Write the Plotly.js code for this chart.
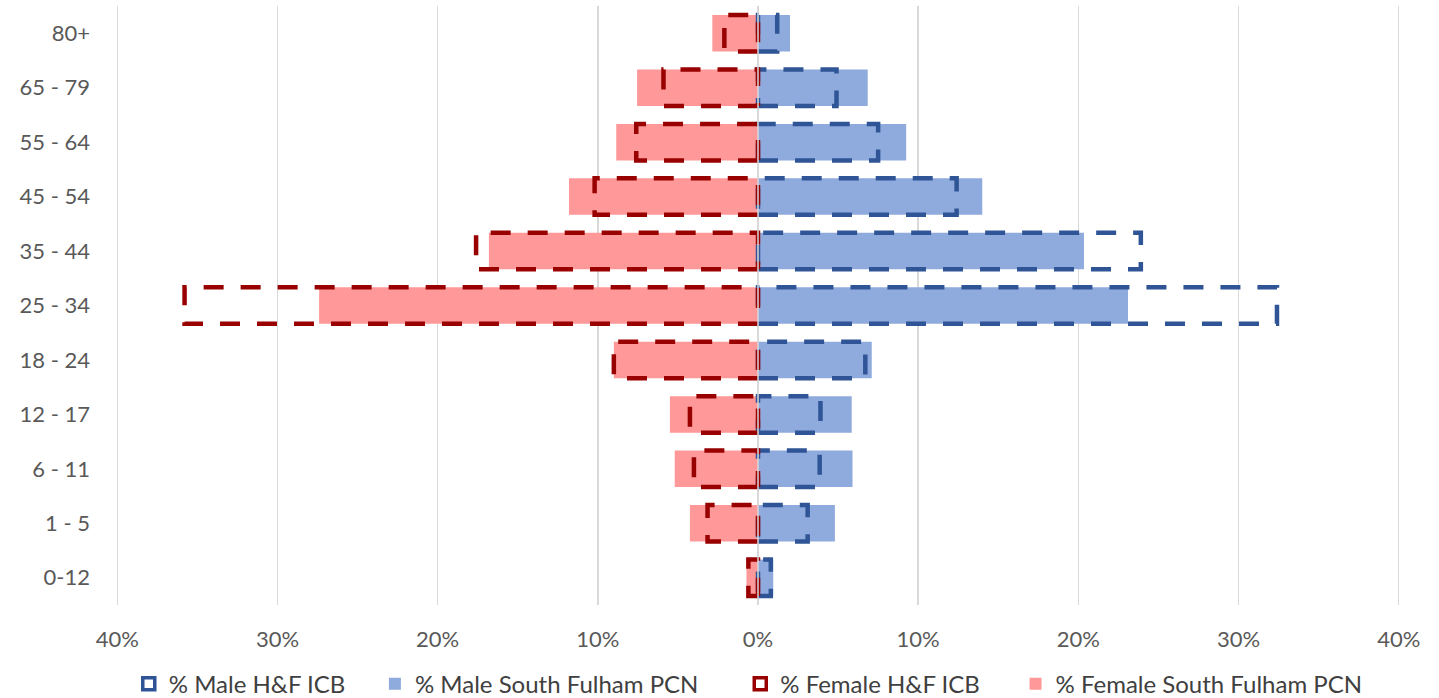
<!DOCTYPE html>
<html>
<head>
<meta charset="utf-8">
<script src="https://cdn.plot.ly/plotly-3.0.1.min.js"></script>
<style>
html,body{margin:0;padding:0;background:#fff;}
#chart{width:1439px;height:698px;}
</style>
</head>
<body>
<div id="chart"></div>
<script>
const categories = ["0-12", "1 - 5", "6 - 11", "12 - 17", "18 - 24", "25 - 34", "35 - 44", "45 - 54", "55 - 64", "65 - 79", "80+"];
const maleICB = [0.8, 3.1, 3.85, 3.9, 6.7, 32.4, 23.9, 12.4, 7.5, 4.9, 1.2];
const malePCN = [0.95, 4.8, 5.9, 5.85, 7.1, 23.1, 20.35, 14.0, 9.25, 6.85, 2.0];
const femaleICB = [0.6, 3.15, 4.0, 4.25, 9.0, 35.8, 17.6, 10.2, 7.6, 5.9, 2.1];
const femalePCN = [0.72, 4.25, 5.2, 5.5, 9.0, 27.4, 16.8, 11.8, 8.85, 7.55, 2.85];
const tickVals = [-40, -30, -20, -10, 0, 10, 20, 30, 40];
const tickText = ["40%", "30%", "20%", "10%", "0%", "10%", "20%", "30%", "40%"];
const seriesNames = ["% Male H&F ICB", "% Male South Fulham PCN", "% Female H&F ICB", "% Female South Fulham PCN"];

const BAR_W = 0.67;
const idx = categories.map((_, i) => i);
const pad = n => "\u00a0".repeat(n);

function outline(values, sign) {
  const xs = [], ys = [];
  const h = BAR_W / 2;
  values.forEach((v, i) => {
    const x = sign * v;
    xs.push(0, x, x, 0, 0, null);
    ys.push(i - h, i - h, i + h, i + h, i - h, null);
  });
  return {x: xs, y: ys};
}

const FONT = "Lato, 'Open Sans', sans-serif";
const mo = outline(maleICB, 1);
const fo = outline(femaleICB, -1);

const traces = [
  {type: 'bar', orientation: 'h', name: seriesNames[1] + pad(6), y: idx, x: malePCN,
   width: BAR_W, marker: {color: '#8faadc'}, legendrank: 2, hoverinfo: 'skip'},
  {type: 'bar', orientation: 'h', name: seriesNames[3], y: idx, x: femalePCN.map(v => -v),
   width: BAR_W, marker: {color: '#ff9999'}, legendrank: 4, hoverinfo: 'skip'},
  {type: 'scatter', mode: 'lines', name: seriesNames[0], x: mo.x, y: mo.y,
   connectgaps: false, showlegend: false,
   line: {color: '#2f5597', width: 4.5, dash: '20px,17px'}, hoverinfo: 'skip'},
  {type: 'scatter', mode: 'lines', name: seriesNames[2], x: fo.x, y: fo.y,
   connectgaps: false, showlegend: false,
   line: {color: '#990000', width: 4.5, dash: '20px,17px'}, hoverinfo: 'skip'},
  // legend keys for the dashed-outline series
  {type: 'bar', orientation: 'h', name: seriesNames[0] + pad(4), x: [null], y: [null],
   marker: {color: 'rgba(255,255,255,0)', line: {color: '#2f5597', width: 3.5}}, legendrank: 1, hoverinfo: 'skip'},
  {type: 'bar', orientation: 'h', name: seriesNames[2] + pad(5), x: [null], y: [null],
   marker: {color: 'rgba(255,255,255,0)', line: {color: '#990000', width: 3.5}}, legendrank: 3, hoverinfo: 'skip'}
];

const layout = {
  width: 1439, height: 698,
  margin: {l: 116, r: 39, t: 6, b: 93},
  paper_bgcolor: '#ffffff', plot_bgcolor: '#ffffff',
  barmode: 'overlay',
  showlegend: true,
  font: {family: FONT, color: '#595959', size: 20},
  xaxis: {
    range: [-40.08, 40.08], tickvals: tickVals, ticktext: tickText,
    showgrid: true, gridcolor: '#d9d9d9', gridwidth: 1.5,
    zeroline: false, showline: false, ticks: '',
    ticklabelstandoff: 19,
    tickfont: {family: FONT, size: 22, color: '#595959'}, fixedrange: true
  },
  yaxis: {
    range: [-0.5, 10.5], tickvals: idx, ticktext: categories,
    showgrid: false, zeroline: false, showline: false, ticks: '',
    ticklabelstandoff: 25,
    tickfont: {family: FONT, size: 22, color: '#595959'}, fixedrange: true
  },
  shapes: [
    {type: 'line', xref: 'x', yref: 'paper', x0: 0, x1: 0, y0: 0, y1: 1,
     line: {color: '#d9d9d9', width: 1.5}, layer: 'above'}
  ],
  legend: {
    orientation: 'h', x: 0.52, xanchor: 'center', xref: 'container',
    y: 0.02, yanchor: 'middle', yref: 'container',
    traceorder: 'normal',
    font: {family: FONT, size: 24, color: '#404040'},
    itemwidth: 30
  }
};

Plotly.newPlot('chart', traces, layout, {displayModeBar: false, staticPlot: true});
</script>
</body>
</html>
